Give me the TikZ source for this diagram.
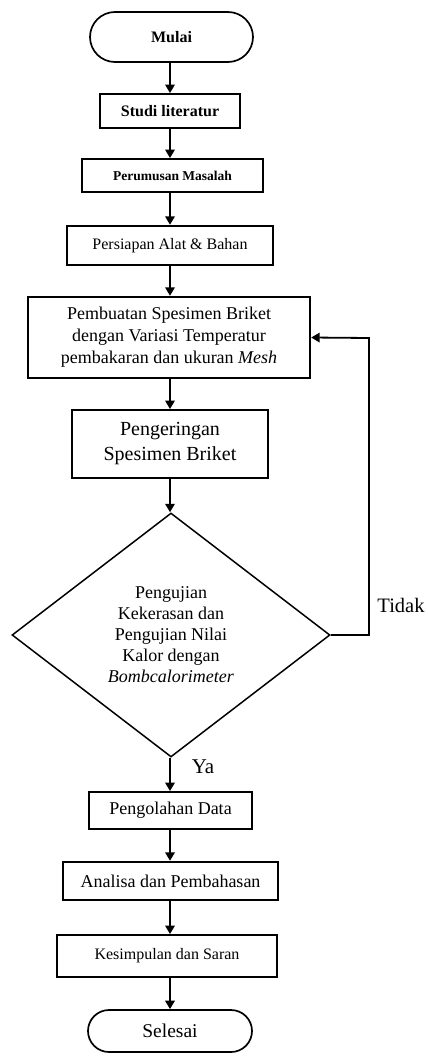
\documentclass[tikz,border=0pt]{standalone}
\usepackage{fontspec}
\setmainfont{Liberation Serif}
\usetikzlibrary{arrows.meta,shapes.misc,shapes.geometric}
\begin{document}
\begin{tikzpicture}[x=1pt,y=-1pt,
  box/.style={draw, line width=1.9pt, rectangle, inner sep=0pt, align=center},
  term/.style={draw, line width=1.7pt, rounded rectangle, inner sep=0pt, align=center},
  dec/.style={draw, line width=1.5pt, diamond, aspect=1.3, inner sep=0pt, align=center},
  arr/.style={line width=1.8pt, -{Triangle[length=8.5pt,width=9.5pt]}},
  lbl/.style={inner sep=0pt}]
\useasboundingbox (0,0) rectangle (428,1057);
\coordinate (col) at (170,0);
\node[term, minimum width=163pt, minimum height=50pt, font=\fontsize{16}{19}\selectfont\bfseries] (mulai) at (171.5,37) {Mulai};
\node[box, minimum width=140pt, minimum height=34pt, font=\fontsize{16}{19}\selectfont\bfseries] (studi) at (170,111) {Studi literatur};
\node[box, minimum width=181pt, minimum height=33pt, font=\fontsize{13.5}{16}\selectfont\bfseries] (rumus) at (172.5,175.5) {Perumusan Masalah};
\node[box, line width=2.4pt, minimum width=206pt, minimum height=39pt, font=\fontsize{16}{19}\selectfont] (siap) at (170,245.5) {Persiapan Alat \& Bahan};
\node[box, line width=2.4pt, minimum width=282pt, minimum height=81pt, font=\fontsize{18}{22}\selectfont] (buat) at (169,337.5) {Pembuatan Spesimen Briket\\dengan Variasi Temperatur\\pembakaran dan ukuran \textit{Mesh}};
\node[box, minimum width=196pt, minimum height=68pt, font=\fontsize{20}{25}\selectfont] (kering) at (170,444) {Pengeringan\\Spesimen Briket};
\node[dec, minimum width=318pt, minimum height=244pt, font=\fontsize{18}{21}\selectfont] (uji) at (171,635) {Pengujian\\Kekerasan dan\\Pengujian Nilai\\Kalor dengan\\\textit{Bombcalorimeter}};
\node[box, minimum width=163pt, minimum height=37pt, font=\fontsize{18}{21}\selectfont] (olah) at (170.5,810.5) {Pengolahan Data};
\node[box, line width=2.4pt, minimum width=215pt, minimum height=38pt, font=\fontsize{18}{21}\selectfont] (analisa) at (170.5,881) {Analisa dan Pembahasan};
\node[box, minimum width=220pt, minimum height=42pt, font=\fontsize{16}{19}\selectfont] (simpul) at (167,956) {Kesimpulan dan Saran};
\node[term, minimum width=164pt, minimum height=42pt, font=\fontsize{19.5}{23}\selectfont] (selesai) at (170,1031) {Selesai};
\node[lbl, font=\fontsize{20.5}{24}\selectfont] (tidak) at (401,605) {Tidak};
\node[lbl, font=\fontsize{21}{24}\selectfont] (ya) at (203,767) {Ya};
\coordinate (fb) at (369,338);
\draw[arr] (mulai.south -| col) -- (studi.north -| col);
\draw[arr] (studi.south -| col) -- (rumus.north -| col);
\draw[arr] (rumus.south -| col) -- (siap.north -| col);
\draw[arr] (siap.south -| col) -- (buat.north -| col);
\draw[arr] (buat.south -| col) -- (kering.north -| col);
\draw[arr] (kering.south -| col) -- (uji.north -| col);
\draw[arr] (uji.south -| col) -- (olah.north -| col);
\draw[arr] (olah.south -| col) -- (analisa.north -| col);
\draw[arr] (analisa.south -| col) -- (simpul.north -| col);
\draw[arr] (simpul.south -| col) -- (selesai.north -| col);
\draw[arr] (uji.east) -- (uji.east -| fb) -- (fb) -- (buat.east);
\end{tikzpicture}
\end{document}
